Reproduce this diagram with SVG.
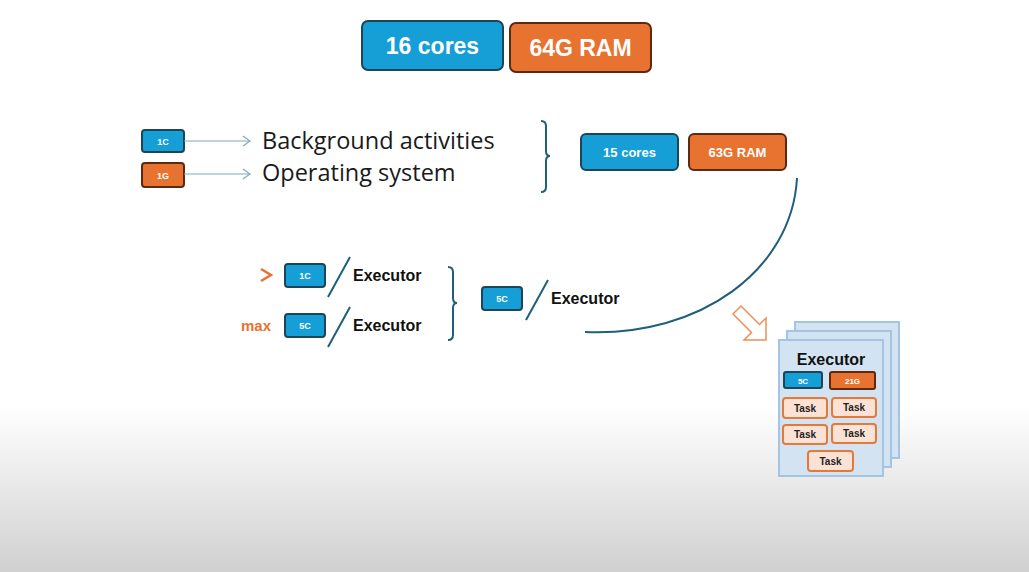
<svg xmlns="http://www.w3.org/2000/svg" width="1029" height="572" viewBox="0 0 1029 572">
<defs>
<linearGradient id="bg" x1="0" y1="0" x2="0" y2="1">
<stop offset="0" stop-color="#ffffff"/>
<stop offset="0.71" stop-color="#ffffff"/>
<stop offset="1" stop-color="#d0d0d0"/>
</linearGradient>
<marker id="chev" markerWidth="12" markerHeight="12" refX="10" refY="6" orient="auto" markerUnits="userSpaceOnUse">
<path d="M3,1 L10,6 L3,11" fill="none" stroke="#7fa9bd" stroke-width="1.2"/>
</marker>
<style>
.blue{fill:#159fd6;stroke:#1c4558;stroke-width:2}
.orange{fill:#e8722f;stroke:#5b2a10;stroke-width:2}
.wt{fill:#ffffff;font-family:"Liberation Sans",Arial,sans-serif;font-weight:bold;text-anchor:middle}
.big{font-family:"Open Sans","Liberation Sans",sans-serif;font-size:23.5px;fill:#1a1a1a}
.ex{font-family:"Liberation Sans",Arial,sans-serif;font-weight:bold;font-size:16px;fill:#111111}
.line{fill:none;stroke:#1f5f7c;stroke-width:2}
.page{fill:#d3e3f2;stroke:#a3c4e2;stroke-width:2}
.task{fill:#fbe2d4;stroke:#e07b3c;stroke-width:2}
.tt{font-family:"Liberation Sans",Arial,sans-serif;font-weight:bold;font-size:10px;fill:#222222;text-anchor:middle}
</style>
</defs>
<rect width="1029" height="572" fill="url(#bg)"/>

<g id="top-cores">
<rect class="blue" x="362" y="21" width="141" height="49" rx="6"/>
<text class="wt" x="432.5" y="54" font-size="23">16 cores</text>
</g>
<g id="top-ram">
<rect class="orange" x="510" y="23" width="141" height="49" rx="6"/>
<text class="wt" x="580.5" y="56" font-size="23">64G RAM</text>
</g>

<g id="c1">
<rect class="blue" x="142" y="130" width="42" height="22" rx="3" stroke-width="1.5"/>
<text class="wt" x="163" y="145" font-size="9">1C</text>
</g>
<g id="g1">
<rect class="orange" x="142" y="163" width="42" height="24" rx="3" stroke-width="1.5"/>
<text class="wt" x="163" y="179" font-size="9">1G</text>
</g>
<g id="bg-activities">
<text class="big" x="262" y="149">Background activities</text>
</g>
<g id="os">
<text class="big" x="262" y="181">Operating system</text>
</g>

<g id="cores15">
<rect class="blue" x="581" y="134" width="97" height="36" rx="5"/>
<text class="wt" x="629.5" y="157" font-size="13">15 cores</text>
</g>
<g id="ram63">
<rect class="orange" x="689" y="134" width="97" height="36" rx="5"/>
<text class="wt" x="737.5" y="157" font-size="13">63G RAM</text>
</g>

<g id="exec-1c">
<path d="M261,269 L271,275 L261,281" fill="none" stroke="#e8722f" stroke-width="2.5"/>
<rect class="blue" x="285" y="264" width="40" height="23" rx="3"/>
<text class="wt" x="305" y="279" font-size="9">1C</text>
<text class="ex" x="353" y="281">Executor</text>
</g>
<g id="exec-5c-max">
<text x="241" y="331" font-family="Liberation Sans, Arial, sans-serif" font-weight="bold" font-size="15" fill="#e8722f">max</text>
<rect class="blue" x="285" y="314" width="40" height="23" rx="3"/>
<text class="wt" x="305" y="329" font-size="9">5C</text>
<text class="ex" x="353" y="331">Executor</text>
</g>
<g id="exec-5c">
<rect class="blue" x="482" y="287" width="40" height="23" rx="3"/>
<text class="wt" x="502" y="302" font-size="9">5C</text>
<text class="ex" x="551" y="304">Executor</text>
</g>

<g id="executor-stack">
<rect class="page" x="795" y="322" width="104" height="136"/>
<rect class="page" x="787" y="331" width="104" height="136"/>
<rect class="page" x="779" y="340" width="104" height="136"/>
<text x="831" y="365" font-family="Liberation Sans, Arial, sans-serif" font-weight="bold" font-size="16" fill="#111111" text-anchor="middle">Executor</text>
<rect class="blue" x="784" y="372" width="38" height="16" rx="2" stroke-width="1.5"/>
<text class="wt" x="803" y="383.5" font-size="8">5C</text>
<rect class="orange" x="830" y="372" width="45" height="17" rx="2" stroke-width="1.5"/>
<text class="wt" x="852.5" y="384" font-size="8">21G</text>
<rect class="task" x="783" y="398" width="44" height="20" rx="3"/>
<text class="tt" x="805" y="412">Task</text>
<rect class="task" x="832" y="398" width="44" height="19" rx="3"/>
<text class="tt" x="854" y="411">Task</text>
<rect class="task" x="783" y="425" width="44" height="19" rx="3"/>
<text class="tt" x="805" y="438">Task</text>
<rect class="task" x="832" y="424" width="44" height="19" rx="3"/>
<text class="tt" x="854" y="437">Task</text>
<rect class="task" x="808" y="451" width="45" height="20" rx="3"/>
<text class="tt" x="830.5" y="465">Task</text>
</g>

<g id="connectors">
<line x1="184" y1="141" x2="250" y2="141" stroke="#7fa9bd" stroke-width="1.2" marker-end="url(#chev)"/>
<line x1="184" y1="174" x2="250" y2="174" stroke="#7fa9bd" stroke-width="1.2" marker-end="url(#chev)"/>
<path class="line" d="M541,121 Q546,121 546,126 L546,151 Q546,156 550,156 Q546,156 546,161 L546,187 Q546,192 541,192"/>
<path class="line" d="M448,267 Q453,267 453,272 L453,298 Q453,303 457,303 Q453,303 453,308 L453,335 Q453,340 448,340"/>
<line class="line" x1="350" y1="257" x2="328" y2="297"/>
<line class="line" x1="350" y1="307" x2="328" y2="347"/>
<line class="line" x1="548" y1="280" x2="526" y2="320"/>
<path class="line" d="M797,178 C792,270 700,337 585,332"/>
<path d="M741,306 L759.5,324.5 L766,318 L766,340 L744,340 L751.5,332.5 L733,314 Z" fill="none" stroke="#e8905a" stroke-width="1.5"/>
</g>
</svg>
